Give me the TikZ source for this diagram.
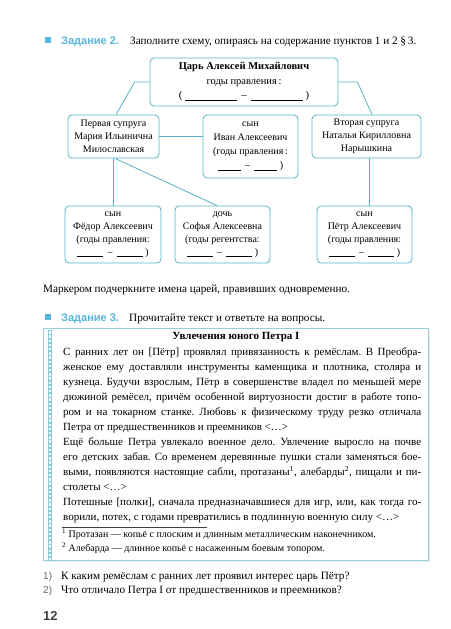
\documentclass[tikz,border=0pt]{standalone}
\usepackage{fontspec}
\setmainfont{Liberation Serif}
\setsansfont{Liberation Sans}
\usetikzlibrary{positioning}
\definecolor{schemeCyan}{RGB}{88,178,198}
\definecolor{taskBlue}{RGB}{86,182,222}
\definecolor{frameCyan}{RGB}{150,208,222}
\newcommand{\answerline}[1]{\rule[-1.5pt]{#1}{0.5pt}}
\tikzset{
  famBox/.style={draw=schemeCyan, line width=0.8pt, rounded corners=4pt, align=center, inner sep=1pt, font=\fontsize{10}{13}\selectfont},
  famLink/.style={draw=schemeCyan, line width=0.8pt},
  taskHead/.style={anchor=base west, inner sep=0pt, font=\sffamily\bfseries\fontsize{11}{12}\selectfont, text=taskBlue},
  plainLine/.style={anchor=base west, inner sep=0pt, font=\fontsize{11.2}{13}\selectfont},
  noteLine/.style={anchor=base west, inner sep=0pt, font=\fontsize{10}{12}\selectfont},
}
\begin{document}
\begin{tikzpicture}[x=1pt, y=-1pt]
  \useasboundingbox (0,0) rectangle (450,629);
  \fill[white] (0,0) rectangle (450,629); % page background
  \def\sq{5.5}
  %
  % task 2
  \fill[taskBlue] (45,37.3) rectangle ++(\sq,\sq);
  \node[taskHead] (taskTwo) at (61,44) {Задание 2.};
  \node[plainLine] (taskTwoText) at (130,44) {Заполните схему, опираясь на содержание пунктов 1 и 2 §\,3.};
  %
  % family scheme
  \node[famBox, minimum width=188pt, minimum height=48pt, font=\fontsize{10.5}{14.5}\selectfont] (tsar) at (244,82)
    {\textbf{Царь Алексей Михайлович}\\годы правления\,:\\( \answerline{52pt} \,–\, \answerline{52pt} )};
  \node[famBox, minimum width=91pt, minimum height=43pt] (wifeOne) at (113.5,136.5)
    {Первая супруга\\Мария Ильинична\\Милославская};
  \node[famBox, minimum width=95pt, minimum height=63pt, font=\fontsize{10}{14}\selectfont] (ivan) at (250.5,146.5)
    {сын\\Иван Алексеевич\\(годы правления\,:\\\answerline{23pt} \,–\, \answerline{23pt} )};
  \node[famBox, minimum width=109pt, minimum height=43pt] (wifeTwo) at (366.5,136.5)
    {Вторая супруга\\Наталья Кирилловна\\Нарышкина};
  \node[famBox, minimum width=96pt, minimum height=57pt] (fedor) at (113,234.5)
    {сын\\Фёдор Алексеевич\\(годы правления:\\\answerline{26pt} \,–\, \answerline{26pt} )};
  \node[famBox, minimum width=95pt, minimum height=57pt] (sofia) at (222.5,234.5)
    {дочь\\Софья Алексеевна\\(годы регентства:\\\answerline{26pt} \,–\, \answerline{26pt} )};
  \node[famBox, minimum width=95pt, minimum height=57pt] (petr) at (364.5,234.5)
    {сын\\Пётр Алексеевич\\(годы правления:\\\answerline{26pt} \,–\, \answerline{26pt} )};
  %
  \draw[famLink] (tsar.west) -- ++(-15,0) -- ([xshift=2.5pt]wifeOne.north);
  \draw[famLink] (tsar.east) -- ++(19,0) -- ([xshift=5.5pt]wifeTwo.north);
  \draw[famLink] (wifeOne.east) -- (wifeOne.east -| ivan.west);
  \draw[famLink] (fedor.north) -- (fedor.north |- wifeOne.south);
  \draw[famLink] ([xshift=1.5pt]wifeOne.south) -- ([xshift=-5.5pt]sofia.north);
  \draw[famLink] ([xshift=4.5pt]petr.north) -- ([xshift=4.5pt]petr.north |- wifeTwo.south);
  %
  \node[plainLine] (markerText) at (43,292) {Маркером подчеркните имена царей, правивших одновременно.};
  %
  % task 3
  \fill[taskBlue] (45,314.3) rectangle ++(\sq,\sq);
  \node[taskHead] (taskThree) at (61,321) {Задание 3.};
  \node[plainLine] (taskThreeText) at (129,321) {Прочитайте текст и ответьте на вопросы.};
  %
  \draw[black!8, line width=1.6pt] (44.5,561.5) -- (429.5,561.5) -- (429.5,329.5); % shadow
  \fill[white] (43,328) rectangle (428,560);
  \draw[frameCyan, line width=0.6pt] (43,328) rectangle (428,560);
  \foreach \k in {0,...,54}
      {
      \draw[frameCyan!80!schemeCyan, line width=0.45pt] (47.8,{330.5+\k*4.2}) rectangle ++(3.3,3.3);
      }
  %
  \node[font=\bfseries\fontsize{11}{12}\selectfont, inner sep=0pt] (storyTitle) at (236,337) {Увлечения юного Петра I};
  \node[anchor=north west, inner sep=0pt, text width=358pt, align=justify, font=\fontsize{11}{15}\selectfont] (storyText) at (63,347.5)
    {\hyphenpenalty=10000 \tolerance=9000 \parindent=0pt \frenchspacing
    С ранних лет он [Пётр] проявлял привязанность к ремёслам. В Преобра-\linebreak
    женское ему доставляли инструменты каменщика и плотника, столяра и\linebreak
    кузнеца. Будучи взрослым, Пётр в совершенстве владел по меньшей мере\linebreak
    дюжиной ремёсел, причём особенной виртуозности достиг в работе топо-\linebreak
    ром и на токарном станке. Любовь к физическому труду резко отличала\linebreak
    Петра от предшественников и преемников \textless…\textgreater\par
    Ещё больше Петра увлекало военное дело. Увлечение выросло на почве\linebreak
    его детских забав. Со временем деревянные пушки стали заменяться бое-\linebreak
    выми, появляются настоящие сабли, протазаны\textsuperscript{1}, алебарды\textsuperscript{2}, пищали и пи-\linebreak
    столеты \textless…\textgreater\par
    Потешные [полки], сначала предназначавшиеся для игр, или, как тогда го-\linebreak
    ворили, потех, с годами превратились в подлинную военную силу \textless…\textgreater\par};
  %
  \draw[black!75, line width=0.5pt] (62,527) -- (207,527); % footnote rule
  \node[noteLine] (noteOne) at (62,537.5) {\textsuperscript{1} Протазан — копьё с плоским и длинным металлическим наконечником.};
  \node[noteLine] (noteTwo) at (62,551.5) {\textsuperscript{2} Алебарда — длинное копьё с насаженным боевым топором.};
  %
  % questions
  \node[plainLine, font=\sffamily\fontsize{10}{12}\selectfont, text=black!60] (qOneNum) at (43,579) {1)};
  \node[plainLine] (qOne) at (61,579) {К каким ремёслам с ранних лет проявил интерес царь Пётр?};
  \node[plainLine, font=\sffamily\fontsize{10}{12}\selectfont, text=black!60] (qTwoNum) at (43,593) {2)};
  \node[plainLine] (qTwo) at (61,593) {Что отличало Петра I от предшественников и преемников?};
  %
  \node[anchor=base west, inner sep=0pt, font=\sffamily\bfseries\fontsize{13}{16}\selectfont, text=black!75] (pageNum) at (43,620) {12};
\end{tikzpicture}
\end{document}
